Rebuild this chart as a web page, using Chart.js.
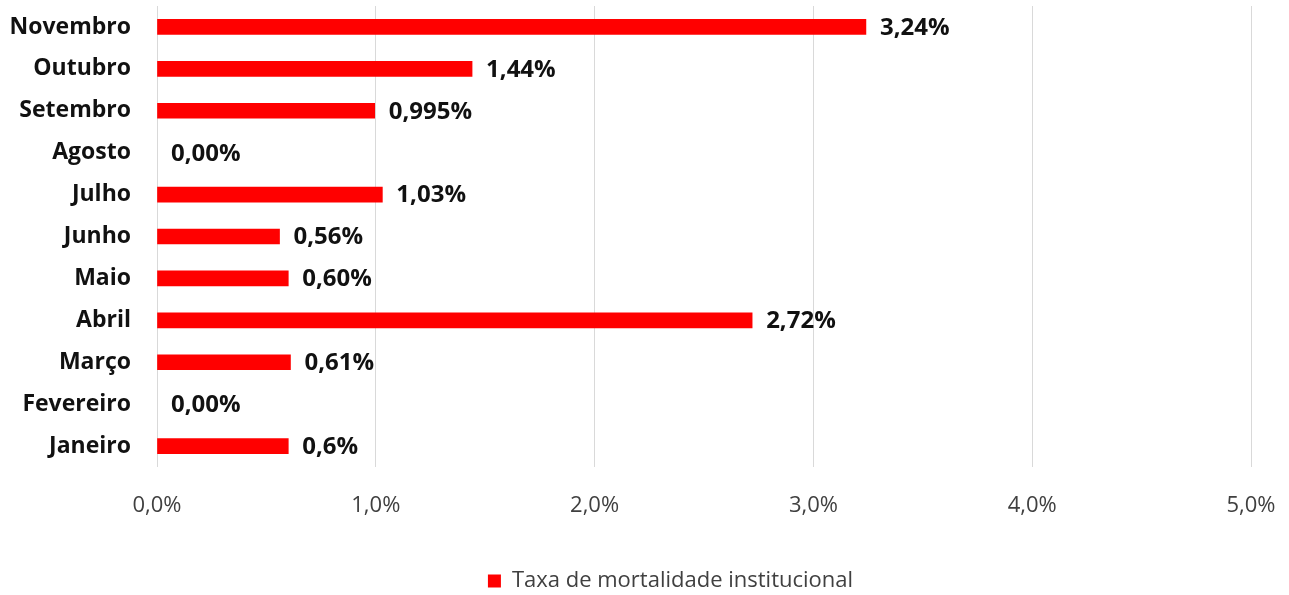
<!DOCTYPE html>
<html>
<head>
<meta charset="utf-8">
<script src="https://cdn.jsdelivr.net/npm/chart.js@4"></script>
<style>
  html, body { margin: 0; padding: 0; background: #fff; }
  #wrap { width: 1289px; height: 595px; }
</style>
</head>
<body>
<div id="wrap"><canvas id="c" width="1289" height="595"></canvas></div>
<script>
// months, top to bottom as in the picture
const months = ['Novembro', 'Outubro', 'Setembro', 'Agosto', 'Julho', 'Junho',
  'Maio', 'Abril', 'Março', 'Fevereiro', 'Janeiro'];
// taxa de mortalidade institucional (%)
const rates = [3.24, 1.44, 0.995, 0, 1.03, 0.56, 0.60, 2.72, 0.61, 0, 0.6];
// labels shown next to each bar
const rateLabels = ['3,24%', '1,44%', '0,995%', '0,00%', '1,03%', '0,56%',
  '0,60%', '2,72%', '0,61%', '0,00%', '0,6%'];
const seriesName = 'Taxa de mortalidade institucional';
const xTicks = [0, 1, 2, 3, 4, 5];

const FONT = '"Open Sans", sans-serif';
const BAR_COLOR = '#FF0000';

// draws the value label just right of each bar end
const barLabels = {
  id: 'barLabels',
  afterDatasetsDraw(chart) {
    const ctx = chart.ctx;
    const meta = chart.getDatasetMeta(0);
    ctx.save();
    ctx.font = 'bold 24px ' + FONT;
    ctx.fillStyle = '#111';
    ctx.textAlign = 'left';
    ctx.textBaseline = 'middle';
    meta.data.forEach((bar, i) => {
      ctx.fillText(rateLabels[i], bar.x + 14, bar.y + 1);
    });
    ctx.restore();
  }
};

// the original legend sits a bit right of centre and lower
const legendShift = {
  id: 'legendShift',
  afterLayout(chart) {
    const lg = chart.legend;
    lg.left += 45; lg.right += 45;
    lg.top += 7; lg.bottom += 7;
  }
};

new Chart(document.getElementById('c'), {
  type: 'bar',
  data: {
    labels: months,
    datasets: [{
      label: seriesName,
      data: rates,
      // no hairline for the zero months
      backgroundColor: rates.map(v => v > 0 ? BAR_COLOR : 'rgba(0,0,0,0)'),
      borderWidth: 0,
      barThickness: 15,
    }]
  },
  options: {
    indexAxis: 'y',
    responsive: false,
    animation: false,
    layout: { padding: { top: 6, right: 38, left: 0, bottom: 0 } },
    plugins: {
      legend: {
        position: 'bottom',
        labels: {
          boxWidth: 13, boxHeight: 13, padding: 2,
          color: '#404040',
          font: { family: FONT, size: 22 },
          generateLabels: () => [{
            text: seriesName, fillStyle: BAR_COLOR, strokeStyle: BAR_COLOR,
            lineWidth: 0, fontColor: '#404040', hidden: false, datasetIndex: 0,
          }],
        }
      },
      tooltip: { enabled: false },
    },
    scales: {
      x: {
        min: 0, max: 5,
        afterBuildTicks(scale) { scale.ticks = xTicks.map(v => ({ value: v })); },
        afterFit(scale) { scale.height = 94; scale.paddingLeft = 0; scale.paddingRight = 0; },
        grid: { color: '#D9D9D9', lineWidth: 1, drawTicks: false },
        border: { display: false },
        ticks: {
          padding: 26,
          color: '#404040',
          font: { family: FONT, size: 22 },
          callback: v => v.toFixed(1).replace('.', ',') + '%',
        },
      },
      y: {
        afterFit(scale) { scale.width = 157; scale.paddingTop = 0; scale.paddingBottom = 0; },
        grid: { display: false, drawTicks: false },
        border: { display: false },
        ticks: {
          padding: 26,
          color: '#111',
          font: { family: FONT, size: 23, weight: 'bold' },
        },
      },
    },
  },
  plugins: [barLabels, legendShift],
});
</script>
</body>
</html>
